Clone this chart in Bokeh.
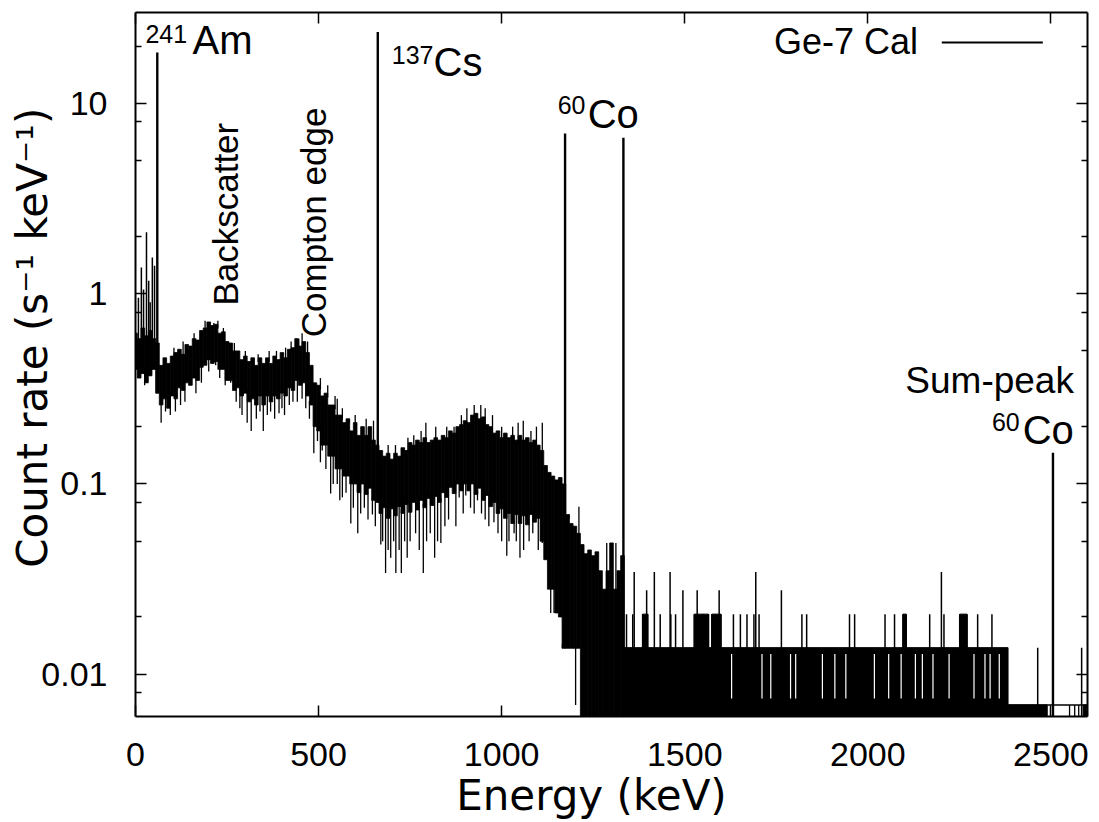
import math
from bokeh.plotting import figure
from bokeh.models import Range1d, FixedTicker, LogAxis, LinearAxis, Label
from bokeh.embed import file_html
from bokeh.resources import INLINE

# ---------------- axes ----------------
x_lim = (0, 2600)
y_lim = (0.006, 30)
x_ticks = [0, 500, 1000, 1500, 2000, 2500]
y_ticks = [0.01, 0.1, 1, 10]
y_tick_labels = ["0.01", "0.1", "1", "10"]
y_minor = [0.008, 0.02, 0.05, 0.08, 0.2, 0.5, 0.8, 2, 5, 8, 20]
x_title = "Energy (keV)"
y_title = "Count rate (s\u207b\u00b9 keV\u207b\u00b9)"

# ---------------- continuum (0-1330 keV, 10 keV bins) ----------------
band_hi = [0.62, 0.58, 0.66, 0.60, 0.64, 0.58, 0.55, 0.42, 0.46, 0.43,
           0.47, 0.49, 0.51, 0.48, 0.54, 0.53, 0.58, 0.57, 0.64, 0.66,
           0.71, 0.68, 0.69, 0.62, 0.63, 0.56, 0.55, 0.50, 0.50, 0.45,
           0.47, 0.44, 0.46, 0.42, 0.46, 0.43, 0.46, 0.43, 0.47, 0.45,
           0.49, 0.46, 0.51, 0.52, 0.58, 0.53, 0.56, 0.49, 0.42, 0.34,
           0.33, 0.29, 0.30, 0.26, 0.26, 0.23, 0.23, 0.21, 0.22, 0.19,
           0.21, 0.18, 0.20, 0.18, 0.20, 0.17, 0.16, 0.15, 0.14, 0.145,
           0.135, 0.145, 0.14, 0.155, 0.15, 0.165, 0.16, 0.17, 0.165, 0.175,
           0.165, 0.17, 0.175, 0.17, 0.18, 0.175, 0.19, 0.185, 0.20, 0.205,
           0.215, 0.21, 0.23, 0.235, 0.22, 0.225, 0.205, 0.20, 0.185, 0.19,
           0.175, 0.185, 0.175, 0.18, 0.17, 0.18, 0.17, 0.175, 0.165, 0.17,
           0.16, 0.15, 0.125, 0.115, 0.11, 0.105, 0.108, 0.10, 0.069, 0.062,
           0.060, 0.055, 0.048, 0.043, 0.045, 0.042, 0.044, 0.035, 0.028, 0.035,
           0.049, 0.028, 0.035, 0.042]
band_lo = [0.40, 0.36, 0.38, 0.34, 0.37, 0.40, 0.30, 0.26, 0.28, 0.25,
           0.29, 0.28, 0.32, 0.31, 0.34, 0.33, 0.36, 0.35, 0.41, 0.42,
           0.45, 0.43, 0.44, 0.40, 0.40, 0.35, 0.35, 0.31, 0.32, 0.29,
           0.30, 0.27, 0.28, 0.26, 0.29, 0.26, 0.29, 0.27, 0.29, 0.28,
           0.30, 0.29, 0.32, 0.31, 0.35, 0.33, 0.34, 0.29, 0.26, 0.20,
           0.19, 0.16, 0.16, 0.14, 0.14, 0.12, 0.12, 0.11, 0.11, 0.10,
           0.10, 0.09, 0.10, 0.088, 0.095, 0.082, 0.08, 0.07, 0.075, 0.066,
           0.074, 0.068, 0.076, 0.07, 0.078, 0.071, 0.08, 0.073, 0.082, 0.075,
           0.084, 0.077, 0.086, 0.08, 0.09, 0.085, 0.096, 0.089, 0.10, 0.092,
           0.10, 0.092, 0.10, 0.088, 0.095, 0.082, 0.087, 0.076, 0.08, 0.07,
           0.074, 0.066, 0.070, 0.062, 0.069, 0.062, 0.068, 0.061, 0.069, 0.063,
           0.066, 0.050, 0.040, 0.028, 0.028, 0.021, 0.020, 0.0137, 0.0137, 0.0137,
           0.0137, 0.0137, 0, 0, 0, 0, 0, 0, 0, 0,
           0, 0, 0, 0]
band_step = 10
band_e = [i * band_step for i in range(len(band_hi))]

# downward noise spikes (keV, rate)
dn_e = [9, 25, 70, 82, 95, 109, 123, 135, 150, 165, 180, 200, 219, 230, 245, 260,
        275, 285, 291, 305, 316, 330, 340, 349, 360, 369, 380, 392, 400, 407, 420,
        430, 442, 455, 465, 475, 487, 497, 505, 510, 520, 533, 540, 551, 558, 565,
        575, 588, 595, 607, 615, 625, 635, 647, 655, 670, 675, 683, 690, 697, 705,
        711, 720, 726, 735, 742, 750, 765, 775, 786, 795, 805, 817, 825, 834, 845,
        855, 875, 884, 895, 902, 915, 925, 934, 945, 955, 965, 979, 990, 1000,
        1014, 1020, 1034, 1040, 1050, 1060, 1075, 1085, 1093, 1100, 1111, 1134,
        1143, 1166, 1202]
dn_v = [0.36, 0.33, 0.21, 0.24, 0.23, 0.24, 0.26, 0.27, 0.33, 0.30, 0.34, 0.39, 0.42, 0.36, 0.33, 0.34,
        0.27, 0.25, 0.23, 0.21, 0.19, 0.22, 0.24, 0.19, 0.23, 0.24, 0.22, 0.235, 0.25, 0.23, 0.26,
        0.27, 0.27, 0.28, 0.25, 0.22, 0.145, 0.168, 0.13, 0.15, 0.12, 0.089, 0.10, 0.10, 0.082, 0.085,
        0.09, 0.062, 0.075, 0.055, 0.07, 0.075, 0.065, 0.069, 0.06, 0.048, 0.05, 0.034, 0.045, 0.041, 0.05,
        0.034, 0.045, 0.034, 0.05, 0.041, 0.05, 0.055, 0.045, 0.034, 0.05, 0.055, 0.041, 0.05, 0.049, 0.06,
        0.065, 0.06, 0.085, 0.07, 0.087, 0.075, 0.07, 0.082, 0.07, 0.065, 0.06, 0.063, 0.055, 0.05,
        0.042, 0.05, 0.055, 0.05, 0.041, 0.045, 0.05, 0.055, 0.069, 0.045, 0.049, 0.021,
        0.021, 0.0137, 0.0069]

# upward noise spikes (keV, rate)
up_e = [105, 130, 160, 190, 214, 225, 240, 270, 300, 335, 365, 385, 410, 425, 446, 455,
        470, 505, 525, 545, 551, 565, 583, 600, 615, 630, 650, 690, 710, 744, 760,
        780, 793, 820, 850, 870, 890, 905, 925, 943, 955, 975, 1000, 1030, 1045,
        1059, 1080, 1095, 1111, 1184, 1211, 1287, 1312]
up_v = [0.52, 0.56, 0.62, 0.72, 0.70, 0.72, 0.66, 0.55, 0.50, 0.48, 0.50, 0.50, 0.52, 0.56, 0.58, 0.62,
        0.56, 0.36, 0.33, 0.29, 0.28, 0.25, 0.22, 0.23, 0.19, 0.22, 0.215, 0.16, 0.16, 0.175, 0.18,
        0.19, 0.21, 0.20, 0.20, 0.20, 0.23, 0.25, 0.26, 0.26, 0.25, 0.23, 0.20, 0.20, 0.21,
        0.215, 0.19, 0.20, 0.21, 0.069, 0.076, 0.049, 0.049]

# low-energy X-ray lines
xray_e = [8, 16, 22, 30, 36, 40, 46, 52]
xray_v = [0.95, 1.37, 1.05, 2.1, 1.17, 0.9, 1.55, 1.4]

# gamma peaks: 241Am, 137Cs, 60Co, 60Co, sum peak
peak_e = [59.5, 661.7, 1173.2, 1332.5, 2505.7]
peak_v = [18.5, 23.7, 6.95, 6.6, 0.146]

# ---------------- high-energy region in counts (1 count = 0.0069 s^-1 keV^-1) ----------------
count_unit = 0.0069
blk_l = [1334, 1385, 1526, 1574, 2096, 2251, 2383, 2588]
blk_r = [2383, 1399, 1565, 1599, 2105, 2271, 2490, 2600]
blk_n = [2, 3, 3, 3, 3, 3, 1, 1]
hs_e = [1341, 1358, 1362, 1385, 1396, 1399, 1417, 1433, 1460, 1462,
        1475, 1495, 1526, 1534, 1536, 1550, 1565, 1574, 1584, 1594,
        1599, 1633, 1652, 1670, 1689, 1694, 1703, 1764, 1820, 1833,
        1950, 1964, 2047, 2073, 2096, 2105, 2169, 2201, 2208, 2251,
        2261, 2271, 2300, 2339, 2464, 2584]
hs_n = [3, 3, 5, 3, 4, 3, 5, 3, 5, 3,
        3, 4, 3, 4, 3, 3, 3, 3, 3, 4,
        3, 3, 3, 3, 3, 5, 3, 4, 3, 3,
        3, 3, 3, 3, 3, 3, 3, 5, 3, 3,
        3, 3, 3, 3, 2, 2]
gap_e = [1628, 1711, 1735, 1789, 1803, 1876, 1910, 1940, 2018, 2057, 2091,
         2130, 2149, 2178, 2222, 2290, 2320, 2334, 2359]
one_count_e = [2551, 2565, 2576]
one_count_span = (2383, 2600)

# ---------------- figure ----------------
p = figure(width=1099, height=822, y_axis_type="log",
           x_range=Range1d(*x_lim), y_range=Range1d(*y_lim),
           output_backend="svg", toolbar_location=None,
           min_border_left=135, min_border_right=12,
           min_border_top=12, min_border_bottom=106)
p.grid.visible = False
p.outline_line_color = None
p.background_fill_color = "white"
p.border_fill_color = "white"

floor = y_lim[0] * 0.5
TICK_FONT = "Liberation Sans"
TITLE_FONT = "DejaVu Sans"
NBSP = "\u00a0"

def nearest(arr, e):
    i = int(round(e / band_step))
    i = max(0, min(len(arr) - 1, i))
    return arr[i] if arr[i] > 0 else floor

# continuum as 10 keV histogram bins
p.quad(left=[e - band_step / 2 for e in band_e], right=[e + band_step / 2 for e in band_e],
       bottom=[v if v > 0 else floor for v in band_lo], top=band_hi,
       fill_color="black", line_color="black", line_width=0.8)
# noise spikes
p.segment(x0=dn_e, y0=dn_v, x1=dn_e, y1=[nearest(band_lo, e) * 1.05 for e in dn_e],
          line_color="black", line_width=1.3)
p.segment(x0=up_e, y0=up_v, x1=up_e, y1=[nearest(band_hi, e) * 0.95 for e in up_e],
          line_color="black", line_width=1.3)
# X-ray lines
p.segment(x0=xray_e, y0=[nearest(band_lo, e) for e in xray_e], x1=xray_e, y1=xray_v,
          line_color="black", line_width=1.5)
# gamma peaks
p.segment(x0=peak_e, y0=[nearest(band_lo, e) if e < 1300 else floor for e in peak_e],
          x1=peak_e, y1=peak_v, line_color="black", line_width=2.4)

# high-energy counting region
p.quad(left=blk_l, right=blk_r, bottom=floor, top=[n * count_unit for n in blk_n],
       fill_color="black", line_color="black", line_width=1)
p.segment(x0=hs_e, y0=floor, x1=hs_e, y1=[n * count_unit for n in hs_n],
          line_color="black", line_width=1.5)
p.segment(x0=gap_e, y0=count_unit * 1.08, x1=gap_e, y1=count_unit * 1.85,
          line_color="white", line_width=1.2)
p.segment(x0=one_count_e, y0=floor, x1=one_count_e, y1=count_unit,
          line_color="black", line_width=1.3)
p.segment(x0=[one_count_span[0]], y0=[count_unit], x1=[one_count_span[1]], y1=[count_unit],
          line_color="black", line_width=1.5)

# ---------------- axes styling ----------------
xt = FixedTicker(ticks=x_ticks, minor_ticks=[])
yt = FixedTicker(ticks=y_ticks, minor_ticks=y_minor)

def style(ax, show_labels):
    ax.axis_line_color = "black"
    ax.axis_line_width = 2
    ax.major_tick_line_color = "black"
    ax.major_tick_line_width = 1.5
    ax.minor_tick_line_color = "black"
    ax.minor_tick_line_width = 1.5
    ax.major_tick_in = 11
    ax.major_tick_out = 0
    ax.minor_tick_in = 6
    ax.minor_tick_out = 0
    if show_labels:
        ax.major_label_text_font = TICK_FONT
        ax.major_label_text_font_size = "34px"
        ax.major_label_text_color = "black"
        ax.axis_label_text_font = TITLE_FONT
        ax.axis_label_text_font_size = "42px"
        ax.axis_label_text_font_style = "normal"
        ax.axis_label_text_color = "black"
    else:
        ax.major_label_text_font_size = "1px"
        ax.major_label_text_color = None
        ax.major_label_standoff = 0

xa = p.xaxis[0]
xa.ticker = xt
style(xa, True)
xa.major_label_standoff = 26
xa.axis_label = x_title + NBSP * 3
xa.axis_label_standoff = 2

ya = p.yaxis[0]
ya.ticker = yt
style(ya, True)
ya.major_label_standoff = 28
ya.major_label_overrides = {t: s for t, s in zip(y_ticks, y_tick_labels)}
ya.axis_label = NBSP * 4 + y_title
ya.axis_label_standoff = -19

top_ax = LinearAxis(ticker=xt)
style(top_ax, False)
p.add_layout(top_ax, "above")
right_ax = LogAxis(ticker=yt)
style(right_ax, False)
p.add_layout(right_ax, "right")

# ---------------- annotations ----------------
ANN_FONT = "Liberation Sans"

def lab(x, y, text, size, align="left", angle=0.0):
    p.add_layout(Label(x=x, y=y, text=text, text_font=ANN_FONT, text_font_size=size,
                       text_align=align, text_baseline="alphabetic", angle=angle,
                       text_color="black"))

lab(27, 23.0, "241", "25px")
lab(156, 21.5, "Am", "40px")
lab(700, 17.9, "137", "25px")
lab(814, 16.5, "Cs", "40px")
lab(1153, 9.76, "60", "25px")
lab(1235, 8.78, "Co", "40px")
lab(2563, 0.348, "Sum-peak", "37px", align="right")
lab(2415, 0.211, "60", "25px", align="right")
lab(2423, 0.192, "Co", "40px")
lab(246, 0.865, "Backscatter", "35px", angle=math.pi / 2)
lab(486, 0.59, "Compton edge", "35px", angle=math.pi / 2)

# legend: text left of the sample line, as in the reference
legend_label = "Ge-7 Cal"
legend_line_e = (2202, 2478)
legend_line_v = 20.9
lab(2137, 21.0, legend_label, "36px", align="right")
p.segment(x0=[legend_line_e[0]], y0=[legend_line_v], x1=[legend_line_e[1]], y1=[legend_line_v],
          line_color="black", line_width=2)

open("out.html", "w").write(file_html(p, INLINE))
